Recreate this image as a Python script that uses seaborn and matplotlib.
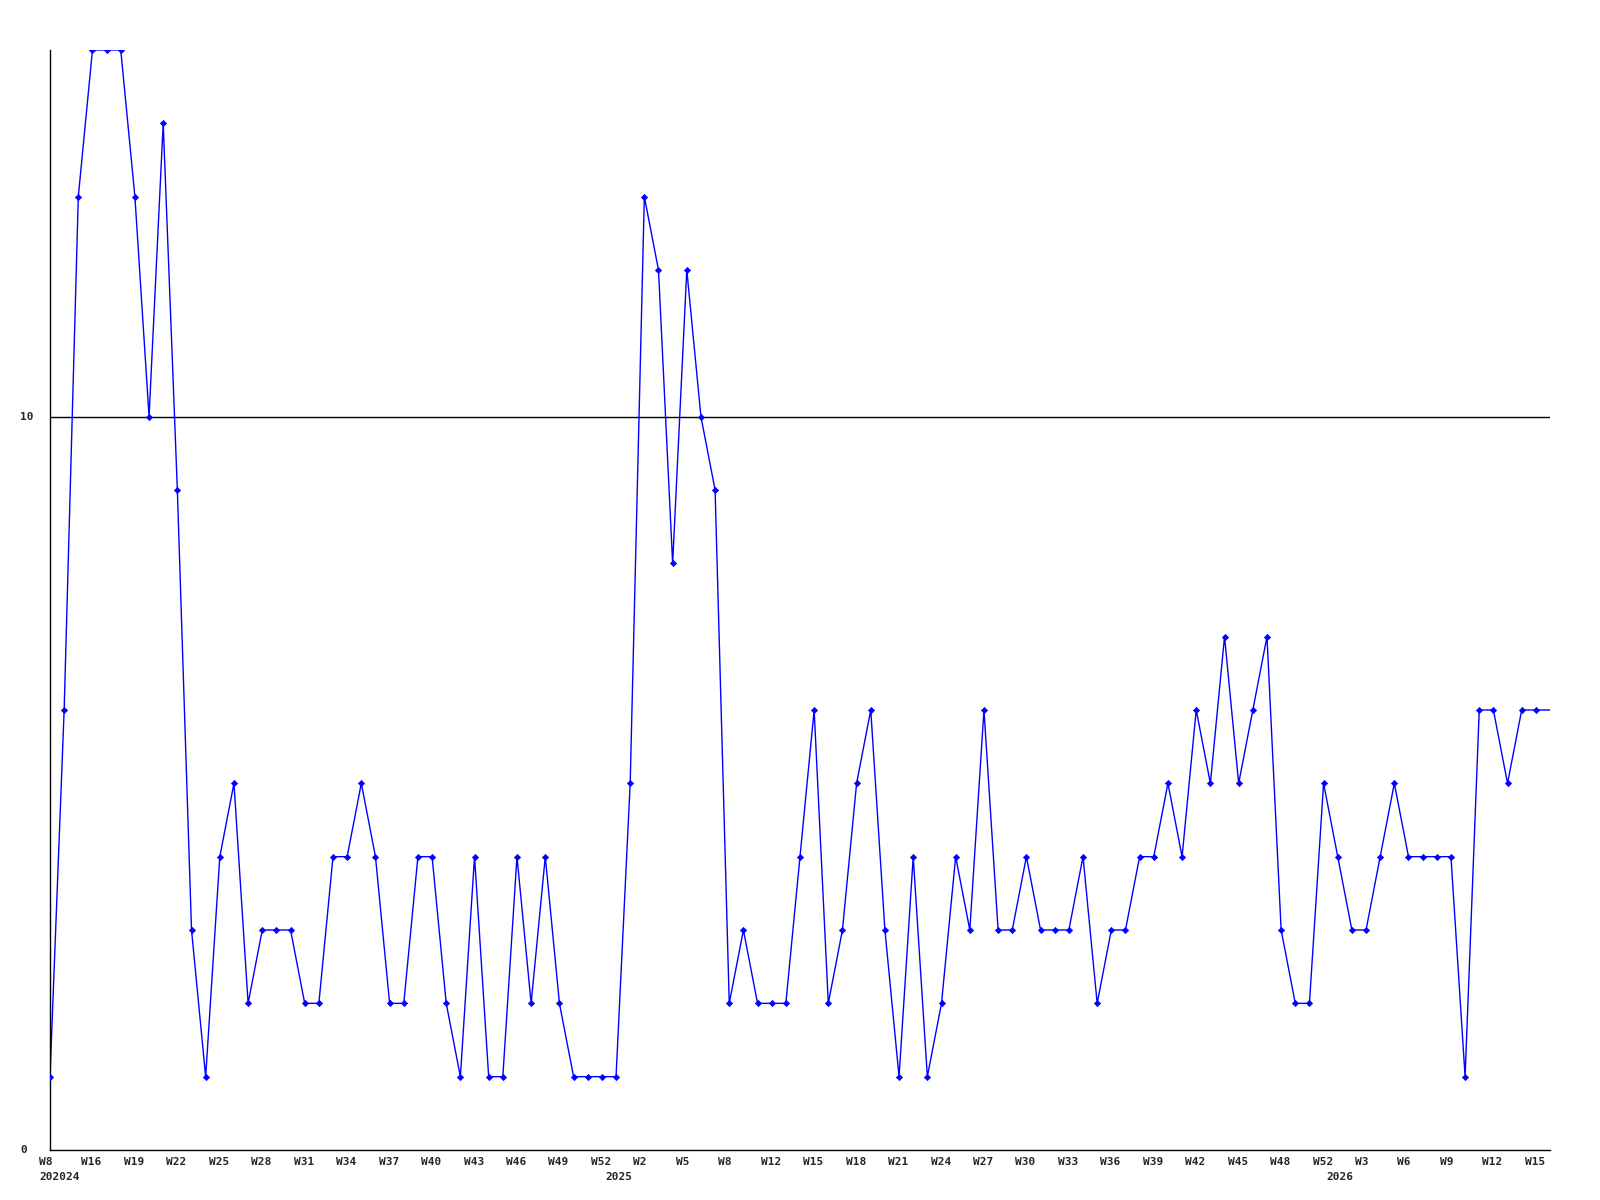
import numpy as np
import pandas as pd
import matplotlib
matplotlib.use('Agg')
import matplotlib.pyplot as plt
import matplotlib.transforms as mtransforms
import seaborn as sns

# weekly counts, W13 2024 .. W16 2026
counts = [1, 6, 13, 15, 15, 15, 13, 10, 14, 9,
          3, 1, 4, 5, 2, 3, 3, 3, 2, 2,
          4, 4, 5, 4, 2, 2, 4, 4, 2, 1,
          4, 1, 1, 4, 2, 4, 2, 1, 1, 1,
          1, 5, 13, 12, 8, 12, 10, 9, 2, 3,
          2, 2, 2, 4, 6, 2, 3, 5, 6, 3,
          1, 4, 1, 2, 4, 3, 6, 3, 3, 4,
          3, 3, 3, 4, 2, 3, 3, 4, 4, 5,
          4, 6, 5, 7, 5, 6, 7, 3, 2, 2,
          5, 4, 3, 3, 4, 5, 4, 4, 4, 4,
          1, 6, 6, 5, 6, 6, 6]

week_pos = [0, 3, 6, 9, 12, 15, 18, 21, 24, 27, 30, 33, 36, 39, 42, 45, 48, 51,
            54, 57, 60, 63, 66, 69, 72, 75, 78, 81, 84, 87, 90, 93, 96, 99, 102, 105]
week_labels = ['W8', 'W16', 'W19', 'W22', 'W25', 'W28', 'W31', 'W34', 'W37',
               'W40', 'W43', 'W46', 'W49', 'W52', 'W2', 'W5', 'W8', 'W12',
               'W15', 'W18', 'W21', 'W24', 'W27', 'W30', 'W33', 'W36', 'W39',
               'W42', 'W45', 'W48', 'W52', 'W3', 'W6', 'W9', 'W12', 'W15']
year_pos = [0, 40, 91]
year_labels = ['202024', '2025', '2026']

df = pd.DataFrame({'idx': np.arange(len(counts)), 'count': counts})

sns.set_style('white')
plt.rcParams['font.family'] = ['DejaVu Sans Mono']

fig = plt.figure(figsize=(16, 12), dpi=100)
ax = fig.add_axes([50 / 1600, 1 - 1150 / 1200, 1500 / 1600, 1100 / 1200])

ax.axhline(10, color='black', lw=1)
sns.lineplot(data=df, x='idx', y='count', color='#0000ff', lw=1, ax=ax)
sns.scatterplot(data=df.iloc[:-1], x='idx', y='count', color='#0000ff',
                marker='D', s=10, edgecolor='#0000ff', linewidth=0.5, ax=ax, zorder=3)

ax.set_xlim(0, len(counts) - 1)
ax.set_ylim(0, 15)
ax.set_xlabel('')
ax.set_ylabel('')
for s in ['top', 'right']:
    ax.spines[s].set_visible(False)
for s in ['left', 'bottom']:
    ax.spines[s].set_color('black')
    ax.spines[s].set_linewidth(1)

ax.set_xticks([])
ax.set_yticks([])

shift = mtransforms.ScaledTranslation(-11 / 100, 0, fig.dpi_scale_trans)
xtrans = ax.get_xaxis_transform() + shift
for p, lab in zip(week_pos, week_labels):
    ax.text(p, -12 / 1100, lab, transform=xtrans, ha='left', va='center',
            fontsize=8, fontweight='bold', clip_on=False)
for p, lab in zip(year_pos, year_labels):
    ax.text(p, -27 / 1100, lab, transform=xtrans, ha='left', va='center',
            fontsize=8, fontweight='bold', clip_on=False)

ytrans = ax.get_yaxis_transform()
for v in [0, 10]:
    ax.text(-30 / 1500, v, str(v), transform=ytrans, ha='left', va='center',
            fontsize=8, fontweight='bold', clip_on=False)

fig.savefig('out.png', dpi=100, facecolor='white')
